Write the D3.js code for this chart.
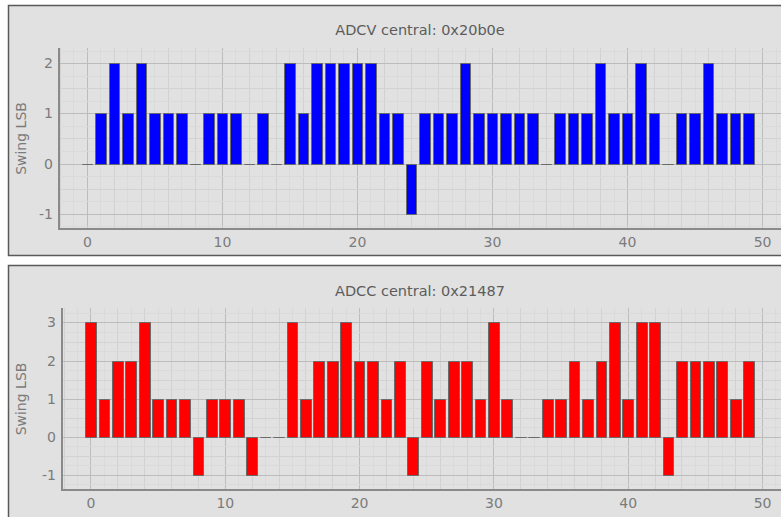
<!DOCTYPE html>
<html lang="en">
<head>
<meta charset="UTF-8">
<title>Swing LSB</title>
<script src="https://cdn.jsdelivr.net/npm/d3@7"></script>
<style>
	body { margin: 0; background: #ffffff; }
	text { font-family: "DejaVu Sans", Tahoma, sans-serif; }
</style>
</head>
<body>
<div id="chart"></div>
<script>
	// Channel index 0..49
	var channels = d3.range(0, 50);

	// Swing (LSB) per channel
	var adcvSwing = [0, 1, 2, 1, 2, 1, 1, 1, 0, 1,
		1, 1, 0, 1, 0, 2, 1, 2, 2, 2,
		2, 2, 1, 1, -1, 1, 1, 1, 2, 1,
		1, 1, 1, 1, 0, 1, 1, 1, 2, 1,
		1, 2, 1, 0, 1, 1, 2, 1, 1, 1];

	var adccSwing = [3, 1, 2, 2, 3, 1, 1, 1, -1, 1,
		1, 1, -1, 0, 0, 3, 1, 2, 2, 3,
		2, 2, 1, 2, -1, 2, 1, 2, 2, 1,
		3, 1, 0, 0, 1, 1, 2, 1, 2, 3,
		1, 3, 3, -1, 2, 2, 2, 2, 1, 2];

	var xTicks = [0, 10, 20, 30, 40, 50];
	var adcvTicks = [-1, 0, 1, 2];
	var adccTicks = [-1, 0, 1, 2, 3];

	var w = 781, h = 517;

	var svg = d3.select("#chart").append("svg")
		.attr("width", w)
		.attr("height", h);

	// one panel = framed box with title, grid, bars and axes
	function drawPanel(opt) {
		var g = svg.append("g");

		// frame
		g.append("rect")
			.attr("x", opt.box[0] + 0.5)
			.attr("y", opt.box[1] + 0.5)
			.attr("width", opt.box[2])
			.attr("height", opt.box[3])
			.attr("fill", "#e1e1e1")
			.attr("stroke", "#5a5a5a")
			.attr("stroke-width", 1.5);

		var xScale = d3.scaleLinear()
			.domain(opt.xDomain)
			.range([opt.left, opt.right]);

		var yScale = d3.scaleLinear()
			.domain(opt.yDomain)
			.range([opt.bottom, opt.top]);

		// title
		g.append("text")
			.attr("x", 420)
			.attr("y", opt.titleY)
			.attr("text-anchor", "middle")
			.attr("font-size", "14.5px")
			.attr("fill", "#5c5c5c")
			.text(opt.title);

		var grid = g.append("g");

		// faint vertical lines every unit, a bit darker every 2, major every 10
		var xMinor = d3.range(Math.ceil(opt.xDomain[0]), Math.floor(opt.xDomain[1]) + 1);
		grid.selectAll(".vx")
			.data(xMinor)
			.enter()
			.append("line")
			.attr("x1", function(d) { return Math.round(xScale(d)) + 0.5; })
			.attr("x2", function(d) { return Math.round(xScale(d)) + 0.5; })
			.attr("y1", opt.top)
			.attr("y2", opt.bottom)
			.attr("stroke", function(d) { return d % 10 == 0 ? "#bcbcbc" : (d % 2 == 0 ? "#d2d2d2" : "#dadada"); })
			.attr("stroke-width", 1);

		// horizontal lines every 0.25, darker on integers
		var yMinor = d3.range(Math.ceil(opt.yDomain[0] * 4), Math.floor(opt.yDomain[1] * 4) + 1).map(function(d) { return d / 4; });
		grid.selectAll(".hy")
			.data(yMinor)
			.enter()
			.append("line")
			.attr("x1", opt.left)
			.attr("x2", opt.right)
			.attr("y1", function(d) { return Math.round(yScale(d)) + 0.5; })
			.attr("y2", function(d) { return Math.round(yScale(d)) + 0.5; })
			.attr("stroke", function(d) { return d % 1 == 0 ? "#bcbcbc" : (d % 0.5 == 0 ? "#d2d2d2" : "#dadada"); })
			.attr("stroke-width", 1);

		// bars (path so that zero bars still show a flat line)
		var half = 0.4;
		g.selectAll(".bar")
			.data(opt.values)
			.enter()
			.append("path")
			.attr("class", "bar")
			.attr("d", function(d, i) {
				var x0 = Math.round(xScale(channels[i] - half)) + 0.5;
				var x1 = Math.round(xScale(channels[i] + half)) + 0.5;
				var y0 = Math.round(yScale(0)) + 0.5;
				var y1 = Math.round(yScale(d)) + 0.5;
				return "M" + x0 + "," + y0 + "V" + y1 + "H" + x1 + "V" + y0 + "Z";
			})
			.attr("fill", opt.color)
			.attr("stroke", "#6a6a6a")
			.attr("stroke-width", 1);

		// axes
		var yAxis = g.append("g")
			.attr("transform", "translate(" + opt.left + ",0)")
			.call(d3.axisLeft(yScale).tickValues(opt.yTicks).tickSize(0).tickPadding(6).tickFormat(function(d) { return String(d); }));

		var xAxis = g.append("g")
			.attr("transform", "translate(0," + opt.bottom + ")")
			.call(d3.axisBottom(xScale).tickValues(xTicks).tickSize(0).tickPadding(8).tickFormat(function(d) { return String(d); }));

		[yAxis, xAxis].forEach(function(a) {
			a.select(".domain").remove();
			a.selectAll("text")
				.attr("fill", "#7b7b7b")
				.attr("font-size", "14px")
				.style("font-family", "'DejaVu Sans', Tahoma, sans-serif");
		});

		// axis lines
		g.append("line")
			.attr("x1", opt.left)
			.attr("x2", opt.left)
			.attr("y1", opt.top)
			.attr("y2", opt.bottom + 1)
			.attr("stroke", "#8a8a8a")
			.attr("stroke-width", 2);

		g.append("line")
			.attr("x1", opt.left - 1)
			.attr("x2", opt.right)
			.attr("y1", opt.bottom)
			.attr("y2", opt.bottom)
			.attr("stroke", "#8a8a8a")
			.attr("stroke-width", 2);

		// axis label
		g.append("text")
			.attr("transform", "translate(" + 26 + "," + ((opt.top + opt.bottom) / 2) + ") rotate(-90)")
			.attr("text-anchor", "middle")
			.attr("font-size", "14px")
			.attr("fill", "#7b7b7b")
			.text("Swing LSB");
	}

	drawPanel({
		box: [8, 5, 800, 250],
		title: "ADCV central: 0x20b0e",
		titleY: 35,
		values: adcvSwing,
		yTicks: adcvTicks,
		color: "#0000ff",
		left: 59, right: 790, top: 48, bottom: 229,
		xDomain: [-2.07, 52.07],
		yDomain: [-1.3, 2.3]
	});

	drawPanel({
		box: [8, 265, 800, 260],
		title: "ADCC central: 0x21487",
		titleY: 296,
		values: adccSwing,
		yTicks: adccTicks,
		color: "#ff0000",
		left: 62, right: 790, top: 308, bottom: 490,
		xDomain: [-2.12, 52.08],
		yDomain: [-1.4, 3.38]
	});
</script>
</body>
</html>
